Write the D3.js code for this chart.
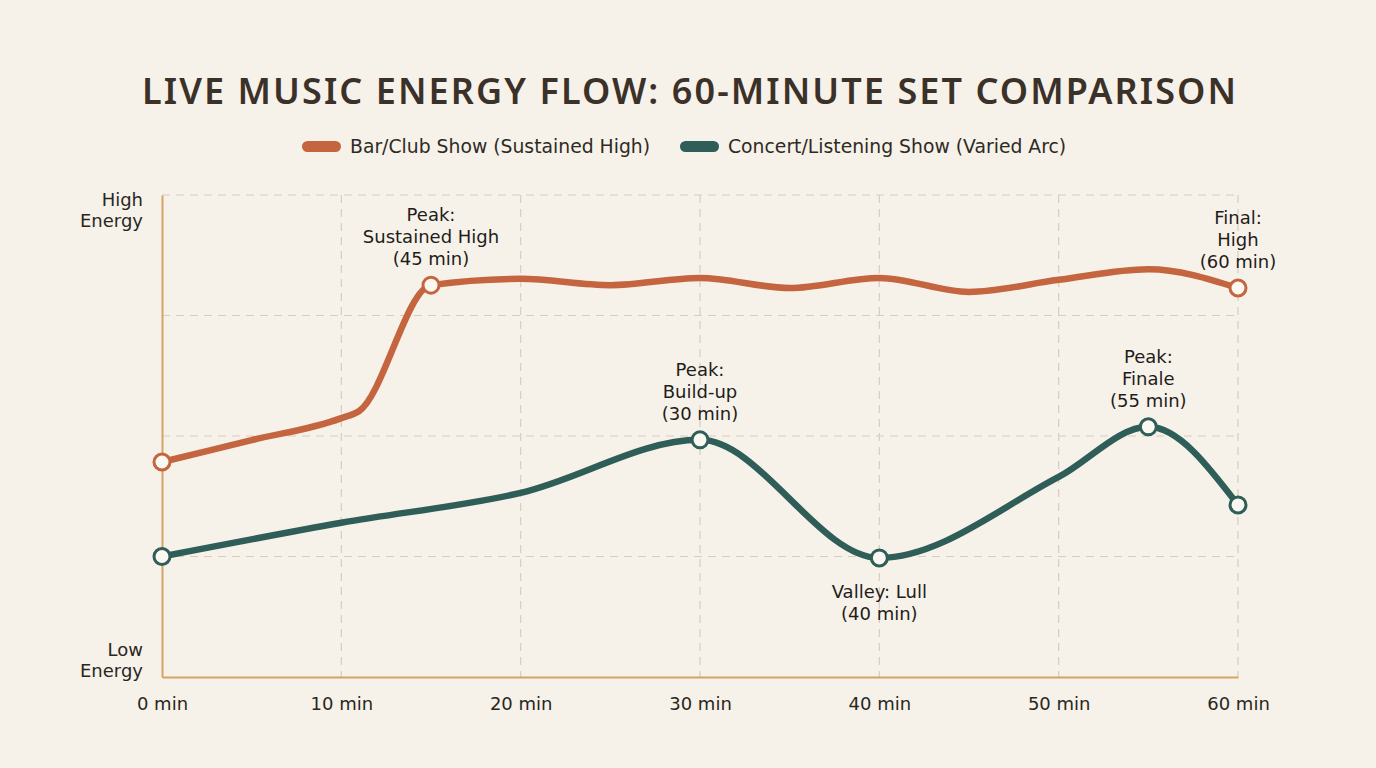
<!DOCTYPE html>
<html>
<head>
<meta charset="utf-8">
<script src="https://cdn.jsdelivr.net/npm/d3@7"></script>
<style>
  body { margin: 0; background: #f6f2e9; }
  svg { display: block; font-family: "DejaVu Sans", "Noto Sans", sans-serif; }
</style>
</head>
<body>
<div id="chart"></div>
<script>
// data (energy 0 = low, 100 = high)
const minutes = [0, 5, 10, 11, 15, 20, 25, 30, 35, 40, 45, 50, 55, 60];
const barClubEnergy = [44.6, 49.15, 53.7, 55.2, 81.3, 82.6, 81.3, 82.8, 80.7, 82.8, 79.9, 82.4, 84.6, 80.7];

const concertMinutes = [0, 10, 20, 30, 40, 50, 55, 60];
const concertEnergy = [25, 32, 38.2, 49.2, 24.7, 41.5, 51.9, 35.7];

const xTicks = [0, 10, 20, 30, 40, 50, 60];
const yTicks = [0, 25, 50, 75, 100];

const seriesNames = ["Bar/Club Show (Sustained High)", "Concert/Listening Show (Varied Arc)"];
const seriesColors = ["#c4653f", "#2f5d58"];

// marked points: series index, minute, label lines, placement
const annotations = [
  {s: 0, m: 15, lines: ["Peak:", "Sustained High", "(45 min)"], pos: "above"},
  {s: 0, m: 60, lines: ["Final:", "High", "(60 min)"], pos: "above"},
  {s: 1, m: 30, lines: ["Peak:", "Build-up", "(30 min)"], pos: "above"},
  {s: 1, m: 40, lines: ["Valley: Lull", "(40 min)"], pos: "below"},
  {s: 1, m: 55, lines: ["Peak:", "Finale", "(55 min)"], pos: "above"}
];
const plainMarkers = [{s: 0, m: 0}, {s: 1, m: 0}, {s: 1, m: 60}];

const width = 1376, height = 768;
const margin = {top: 195, right: 138, bottom: 91, left: 162};

const svg = d3.select("#chart").append("svg")
    .attr("width", width)
    .attr("height", height);

svg.append("rect").attr("width", width).attr("height", height).attr("fill", "#f6f2e9");

const x = d3.scaleLinear().domain([0, 60]).range([margin.left, width - margin.right]);
const y = d3.scaleLinear().domain([0, 100]).range([height - margin.bottom, margin.top]);

// title
svg.append("text")
    .attr("x", 689).attr("y", 104)
    .attr("text-anchor", "middle")
    .attr("font-family", "'Noto Sans', sans-serif")
    .attr("font-size", 36)
    .attr("font-weight", 600)
    .attr("fill", "#3b3129")
    .attr("textLength", 1094)
    .attr("lengthAdjust", "spacing")
    .text("LIVE MUSIC ENERGY FLOW: 60-MINUTE SET COMPARISON");

// legend
const legendX = [302, 680];
seriesNames.forEach((name, i) => {
  svg.append("rect")
      .attr("x", legendX[i]).attr("y", 141)
      .attr("width", 39).attr("height", 11).attr("rx", 5.5)
      .attr("fill", seriesColors[i]);
  svg.append("text")
      .attr("x", legendX[i] + 48).attr("y", 153)
      .attr("font-size", 18.8)
      .attr("fill", "#2e2a26")
      .text(name);
});

// grid
const grid = svg.append("g").attr("stroke", "#d7ccbf").attr("stroke-dasharray", "8,6").attr("stroke-width", 1.2);
grid.selectAll(".gx").data(xTicks.slice(1)).enter().append("line")
    .attr("x1", d => x(d)).attr("x2", d => x(d))
    .attr("y1", y(100)).attr("y2", y(0));
grid.selectAll(".gy").data(yTicks.slice(1)).enter().append("line")
    .attr("x1", x(0)).attr("x2", x(60))
    .attr("y1", d => y(d)).attr("y2", d => y(d));

// axes
const xAxis = svg.append("g")
    .attr("transform", "translate(0," + y(0) + ")")
    .call(d3.axisBottom(x).tickValues(xTicks).tickSize(0).tickPadding(20).tickFormat(d => d + " min"));
xAxis.select(".domain").attr("stroke", "#d5a367").attr("stroke-width", 2);
xAxis.selectAll("text").attr("font-size", 18).attr("fill", "#2a2622")
    .attr("font-family", "'DejaVu Sans', sans-serif");

const yAxis = svg.append("g")
    .attr("transform", "translate(" + x(0) + ",0)")
    .call(d3.axisLeft(y).tickValues([]).tickSize(0));
yAxis.select(".domain").attr("stroke", "#d5a367").attr("stroke-width", 2);

const yLabels = [
  {text: "High", y: 206}, {text: "Energy", y: 227},
  {text: "Low", y: 656}, {text: "Energy", y: 677}
];
svg.selectAll(".ylab").data(yLabels).enter().append("text")
    .attr("x", 143).attr("y", d => d.y)
    .attr("text-anchor", "end")
    .attr("font-size", 18)
    .attr("fill", "#2a2622")
    .text(d => d.text);

// lines
const seriesData = [
  minutes.map((m, i) => ({m: m, v: barClubEnergy[i]})),
  concertMinutes.map((m, i) => ({m: m, v: concertEnergy[i]}))
];

const line = d3.line()
    .x(d => x(d.m))
    .y(d => y(d.v))
    .curve(d3.curveMonotoneX);

seriesData.forEach((data, i) => {
  svg.append("path")
      .datum(data)
      .attr("fill", "none")
      .attr("stroke", seriesColors[i])
      .attr("stroke-width", 6.5)
      .attr("stroke-linecap", "round")
      .attr("stroke-linejoin", "round")
      .attr("d", line);
});

function valueAt(s, m) {
  return seriesData[s].find(d => d.m === m).v;
}

// markers
const markerList = annotations.map(a => ({s: a.s, m: a.m})).concat(plainMarkers);
svg.selectAll(".marker").data(markerList).enter().append("circle")
    .attr("cx", d => x(d.m))
    .attr("cy", d => y(valueAt(d.s, d.m)))
    .attr("r", 8)
    .attr("fill", "#fbf8f2")
    .attr("stroke", d => seriesColors[d.s])
    .attr("stroke-width", 3);

// annotation labels, one text per line
annotations.forEach(a => {
  const cx = x(a.m), cy = y(valueAt(a.s, a.m));
  const n = a.lines.length;
  a.lines.forEach((ln, k) => {
    const yy = a.pos === "above" ? cy - 20 - (n - 1 - k) * 22 : cy + 40 + k * 22;
    svg.append("text")
        .attr("x", cx).attr("y", yy)
        .attr("text-anchor", "middle")
        .attr("font-size", 18)
        .attr("fill", "#1f1c1a")
        .text(ln);
  });
});
</script>
</body>
</html>
